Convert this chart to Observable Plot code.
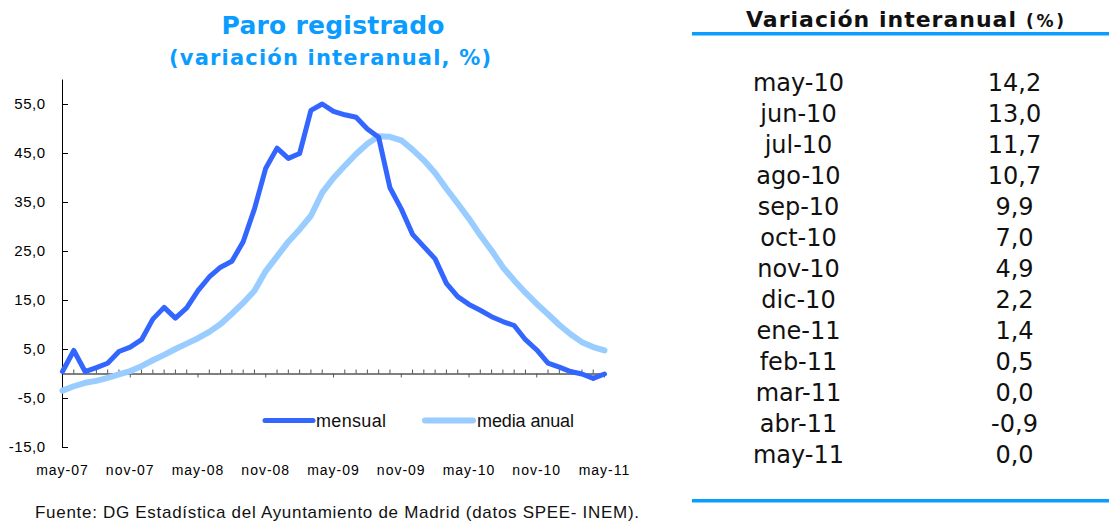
<!DOCTYPE html>
<html>
<head>
<meta charset="utf-8">
<script src="https://cdn.jsdelivr.net/npm/d3@7"></script>
<script src="https://cdn.jsdelivr.net/npm/@observablehq/plot@0.6"></script>
<style>
  body { margin: 0; background: #fff; }
  #root { position: relative; width: 1109px; height: 521px; overflow: hidden; background: #fff; }
  #root > * { position: absolute; }
  g[aria-label="x-axis tick label"] text { letter-spacing: 1px; }
  g[aria-label="y-axis tick label"] text { letter-spacing: 0.5px; }
</style>
</head>
<body>
<div id="root"></div>
<script>
// ---------- data ----------
const months = [
  "may-07","jun-07","jul-07","ago-07","sep-07","oct-07","nov-07","dic-07",
  "ene-08","feb-08","mar-08","abr-08","may-08","jun-08","jul-08","ago-08","sep-08","oct-08","nov-08","dic-08",
  "ene-09","feb-09","mar-09","abr-09","may-09","jun-09","jul-09","ago-09","sep-09","oct-09","nov-09","dic-09",
  "ene-10","feb-10","mar-10","abr-10","may-10","jun-10","jul-10","ago-10","sep-10","oct-10","nov-10","dic-10",
  "ene-11","feb-11","mar-11","abr-11","may-11"
];
const mensual = [
  0.5, 4.8, 0.5, 1.3, 2.2, 4.6, 5.5, 7.0,
  11.2, 13.6, 11.4, 13.5, 17.0, 19.8, 21.8, 23.0, 27.0, 33.7, 42.0, 46.1,
  44.0, 45.0, 53.8, 55.1, 53.6, 52.9, 52.4, 50.0, 48.3, 38.0, 33.7, 28.5,
  26.0, 23.5, 18.5, 15.8, 14.2, 13.0, 11.7, 10.7, 9.9, 7.0, 4.9, 2.2,
  1.4, 0.5, 0.0, -0.9, 0.0
];
const mediaAnual = [
  -3.4, -2.5, -1.8, -1.4, -0.8, -0.1, 0.6, 1.6,
  2.8, 3.9, 5.1, 6.2, 7.3, 8.6, 10.2, 12.3, 14.5, 17.0, 21.0, 24.0,
  27.0, 29.5, 32.3, 37.0, 40.0, 42.5, 44.9, 47.0, 48.5, 48.4, 47.7, 45.8,
  43.6, 41.0, 37.8, 34.8, 31.7, 28.3, 25.2, 21.8, 19.1, 16.6, 14.3, 12.2,
  10.0, 8.1, 6.5, 5.5, 4.8
];
const xTickLabels = ["may-07","nov-07","may-08","nov-08","may-09","nov-09","may-10","nov-10","may-11"];
const yTicks = [-15, -5, 5, 15, 25, 35, 45, 55];
const seriesNames = ["mensual", "media anual"];
const seriesColors = ["#3366ff", "#99ccff"];

const tableMonths = ["may-10","jun-10","jul-10","ago-10","sep-10","oct-10","nov-10","dic-10","ene-11","feb-11","mar-11","abr-11","may-11"];
const tableValues = [14.2, 13.0, 11.7, 10.7, 9.9, 7.0, 4.9, 2.2, 1.4, 0.5, 0.0, -0.9, 0.0];

const titleText = "Paro registrado";
const subtitleText = "(variación interanual, %)";
const tableTitle = "Variación interanual";
const tableUnit = "(%)";
const captionText = "Fuente: DG Estadística del Ayuntamiento de Madrid (datos SPEE- INEM).";

// ---------- build ----------
const root = document.getElementById("root");
const fmt = v => v.toFixed(1).replace(".", ",");
const rows = months.map((m, i) => ({i, month: m, mensual: mensual[i], media: mediaAnual[i]}));
const majorIdx = xTickLabels.map(l => months.indexOf(l));
const minorIdx = months.map((m, i) => i).filter(i => !majorIdx.includes(i));

const chart = Plot.plot({
  width: 640,
  height: 420,
  marginLeft: 62,
  marginRight: 36,
  marginTop: 9.5,
  marginBottom: 43,
  x: {type: "linear", domain: [0, months.length - 1], label: null},
  y: {type: "linear", domain: [-15, 60], label: null},
  style: {fontFamily: "'Liberation Sans', Arial, sans-serif", color: "#000", background: "transparent", overflow: "visible"},
  marks: [
    Plot.ruleY([0], {stroke: "#000", strokeWidth: 1}),
    Plot.ruleX(minorIdx, {x: d => d, y1: 0, y2: 0, insetTop: -4, insetBottom: 0, stroke: "#555"}),
    Plot.ruleX(majorIdx, {x: d => d, y1: 0, y2: 0, insetTop: 0, insetBottom: -4, stroke: "#555"}),
    Plot.ruleX([0], {y1: -15, y2: 60, stroke: "#000"}),
    Plot.ruleY(yTicks, {x1: 0, x2: 0, insetLeft: 0, insetRight: -6, stroke: "#000"}),
    Plot.axisY({ticks: yTicks, tickSize: 0, tickPadding: 17, tickFormat: fmt, fontSize: 15, label: null}),
    Plot.axisX({ticks: majorIdx, tickSize: 0, tickPadding: 18, tickFormat: i => months[i], fontSize: 14, label: null}),
    Plot.line(rows, {x: "i", y: "media", stroke: seriesColors[1], strokeWidth: 6, strokeLinejoin: "round", strokeLinecap: "round"}),
    Plot.line(rows, {x: "i", y: "mensual", stroke: seriesColors[0], strokeWidth: 5, strokeLinejoin: "round", strokeLinecap: "round"})
  ]
});
chart.style.left = "0px";
chart.style.top = "70px";
root.appendChild(chart);

const tbl = Plot.plot({
  width: 417,
  height: 521,
  margin: 0,
  x: {type: "point", domain: ["mes", "valor"], range: [106, 322], padding: 0, axis: null},
  y: {type: "point", domain: tableMonths, range: [82, 456], padding: 0, axis: null},
  style: {fontFamily: "'DejaVu Sans', Verdana, sans-serif", color: "#111", background: "transparent"},
  marks: [
    Plot.text(tableMonths, {x: () => "mes", y: d => d, text: d => d, fontSize: 24}),
    Plot.text(tableValues, {x: () => "valor", y: (d, i) => tableMonths[i], text: d => fmt(d), fontSize: 24})
  ]
});
tbl.style.left = "692px";
tbl.style.top = "0px";
root.appendChild(tbl);

// overlay: titles, legend, caption, table rules
const ov = d3.select(root).append("svg")
  .attr("width", 1109).attr("height", 521)
  .style("left", "0px").style("top", "0px").style("pointer-events", "none");

ov.append("text").text(titleText)
  .attr("x", 333).attr("y", 34).attr("text-anchor", "middle")
  .attr("font-family", "'DejaVu Sans', Verdana, sans-serif").attr("font-weight", "bold")
  .attr("font-size", 25).attr("fill", "#0a9cff")
  .attr("textLength", 223).attr("lengthAdjust", "spacing");
ov.append("text").text(subtitleText)
  .attr("x", 330).attr("y", 65).attr("text-anchor", "middle")
  .attr("font-family", "'DejaVu Sans', Verdana, sans-serif").attr("font-weight", "bold")
  .attr("font-size", 21).attr("fill", "#0a9cff")
  .attr("textLength", 322).attr("lengthAdjust", "spacing");

ov.append("text").text(tableTitle)
  .attr("x", 746).attr("y", 27)
  .attr("font-family", "'DejaVu Sans', Verdana, sans-serif").attr("font-weight", "bold")
  .attr("font-size", 22).attr("fill", "#111")
  .attr("textLength", 270).attr("lengthAdjust", "spacing");
ov.append("text").text(tableUnit)
  .attr("x", 1026).attr("y", 27)
  .attr("font-family", "'DejaVu Sans', Verdana, sans-serif").attr("font-weight", "bold")
  .attr("font-size", 17).attr("fill", "#111")
  .attr("textLength", 38).attr("lengthAdjust", "spacing");

ov.append("rect").attr("x", 692).attr("y", 32).attr("width", 417).attr("height", 3.5).attr("fill", "#0a9cff");
ov.append("rect").attr("x", 692).attr("y", 499).attr("width", 417).attr("height", 3.5).attr("fill", "#0a9cff");

// legend
const legendPos = [{x1: 265, x2: 313, tx: 316, tl: 70}, {x1: 425, x2: 473, tx: 477, tl: 97}];
seriesNames.forEach((name, k) => {
  const p = legendPos[k];
  ov.append("line").attr("x1", p.x1).attr("x2", p.x2).attr("y1", 420.5).attr("y2", 420.5)
    .attr("stroke", seriesColors[k]).attr("stroke-width", k === 0 ? 5 : 6).attr("stroke-linecap", "round");
  ov.append("text").text(name).attr("x", p.tx).attr("y", 427)
    .attr("font-family", "'Liberation Sans', Arial, sans-serif").attr("font-size", 18).attr("fill", "#111")
    .attr("textLength", p.tl).attr("lengthAdjust", "spacing");
});

ov.append("text").text(captionText)
  .attr("x", 35).attr("y", 518)
  .attr("font-family", "'Liberation Sans Narrow', 'Liberation Sans', Arial, sans-serif").attr("font-size", 17).attr("fill", "#111")
  .attr("textLength", 604).attr("lengthAdjust", "spacing");
</script>
</body>
</html>
